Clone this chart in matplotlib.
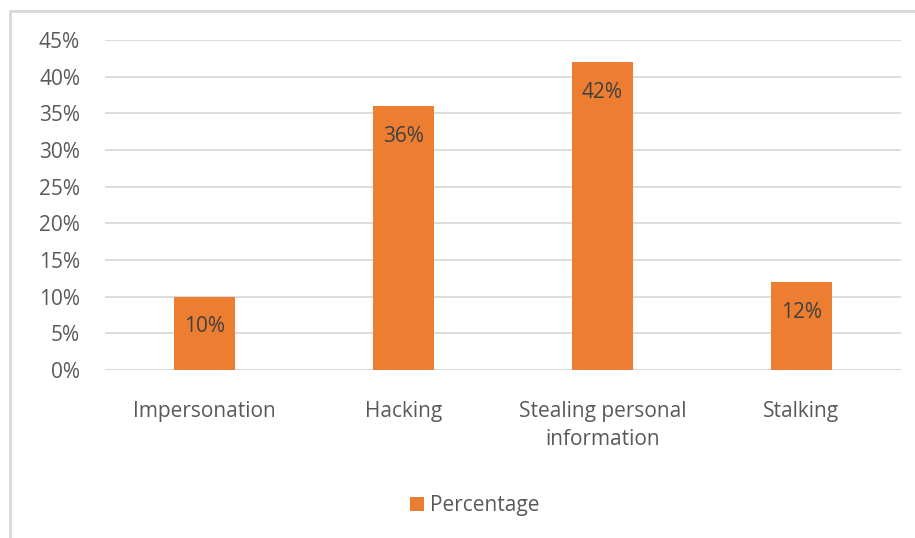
import matplotlib
matplotlib.use("Agg")
import matplotlib.pyplot as plt
from matplotlib.patches import Rectangle

categories = ["Impersonation", "Hacking", "Stealing personal\ninformation", "Stalking"]
percentages = [10, 36, 42, 12]
ytick_values = [0, 5, 10, 15, 20, 25, 30, 35, 40, 45]
series_name = "Percentage"

bar_color = "#ED7D31"
text_color = "#595959"
label_color = "#404040"
grid_color = "#D9D9D9"

plt.rcParams["font.family"] = ["Open Sans", "DejaVu Sans"]
FS = 15

W, H = 915, 538
fig = plt.figure(figsize=(W / 100, H / 100), dpi=100)

# chart outline (left and top edges visible)
fig.add_artist(Rectangle((10 / W, -0.01), 1.2, 1 - 11 / H + 0.01, transform=fig.transFigure,
                         fill=False, edgecolor=grid_color, linewidth=2))

left, right = 105 / W, 901 / W
bottom, top = 1 - 370 / H, 1 - 40 / H
ax = fig.add_axes([left, bottom, right - left, top - bottom])

x = range(len(categories))
bars = ax.bar(x, percentages, width=0.31, color=bar_color, zorder=3)
for xi, v in zip(x, percentages):
    ax.text(xi, v - 4.1, f"{v}%", ha="center", va="center", fontsize=FS, color=label_color, zorder=4)

ax.set_xlim(-0.5, len(categories) - 0.5)
ax.set_ylim(0, 45)
ax.set_yticks(ytick_values)
ax.set_yticklabels([f"{v}%" for v in ytick_values], fontsize=FS, color=text_color)
ax.set_xticks(list(x))
ax.set_xticklabels(categories, fontsize=FS, color=text_color, linespacing=1.45, va="top")
ax.tick_params(axis="both", length=0)
ax.tick_params(axis="y", pad=18)
ax.tick_params(axis="x", pad=22)
ax.grid(axis="y", color=grid_color, linewidth=1.3, zorder=0)
for s in ax.spines.values():
    s.set_visible(False)
ax.axhline(0, color=grid_color, linewidth=1.3, zorder=2)

# legend
fig.add_artist(Rectangle((410 / W, 1 - 511 / H), 14 / W, 14 / H, transform=fig.transFigure,
                         facecolor=bar_color, edgecolor="none"))
fig.text(430 / W, 1 - 506 / H, series_name, fontsize=FS, color=text_color, va="center", ha="left")

fig.savefig("out.png", dpi=100, facecolor="white")
